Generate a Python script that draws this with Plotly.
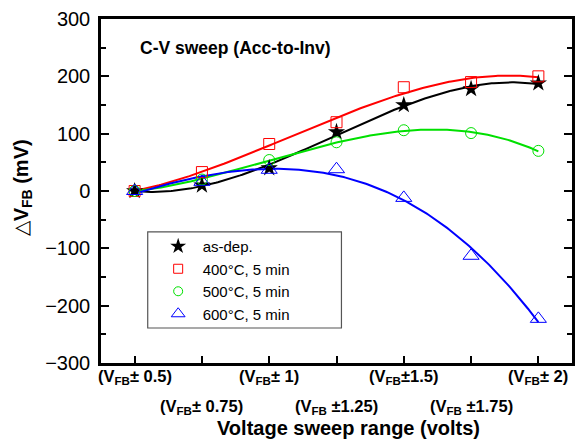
import numpy as np
import plotly.graph_objects as go

# Sweep range (half-width in volts around V_FB)
sweep = [0.5, 0.75, 1.0, 1.25, 1.5, 1.75, 2.0]

# Flat-band voltage shift (mV) for each anneal condition
dvfb_as_dep = [0, 10, 40, 103, 150, 178, 188]
dvfb_400 = [0, 33, 82, 120, 181, 190, 200]
dvfb_500 = [0, 20, 54, 85, 106, 101, 70]
dvfb_600 = [0, 16, 37, 38, -12, -113, -223]

tick_vals = [0.5, 0.75, 1.0, 1.25, 1.5, 1.75, 2.0]
tick_text = [
    "(V<sub>FB</sub>± 0.5)",
    "(V<sub>FB</sub>± 0.75)",
    "(V<sub>FB</sub>± 1)",
    "(V<sub>FB</sub> ±1.25)",
    "(V<sub>FB</sub>±1.5)",
    "(V<sub>FB</sub> ±1.75)",
    "(V<sub>FB</sub>± 2)",
]

# name, values, colour, symbol, plot marker size, legend marker size, filled
series = [
    ("as-dep.", dvfb_as_dep, "#000000", "star", 13, 12, True),
    ("400°C, 5 min", dvfb_400, "#ff0000", "square-open", 11, 9, False),
    ("500°C, 5 min", dvfb_500, "#00e000", "circle-open", 11, 9, False),
    ("600°C, 5 min", dvfb_600, "#0000ff", "triangle-up-open", 14, 12, False),
]

FONT = "Liberation Sans, Arial, sans-serif"

fig = go.Figure()

# Smooth cubic trend through each data set
xs = np.linspace(sweep[0], sweep[-1], 200)
for name, ys, color, sym, size, lsize, filled in series:
    coef = np.polyfit(sweep, ys, 3)
    fig.add_trace(go.Scatter(
        x=xs, y=np.polyval(coef, xs), mode="lines",
        line=dict(color=color, width=2), showlegend=False, hoverinfo="skip",
    ))

for name, ys, color, sym, size, lsize, filled in series:
    fig.add_trace(go.Scatter(
        x=sweep, y=ys, mode="markers", name=name, showlegend=False,
        marker=dict(symbol=sym, size=size, color=color,
                    line=dict(color=color, width=0 if filled else 1)),
    ))

# Legend entries with smaller symbols
for name, ys, color, sym, size, lsize, filled in series:
    fig.add_trace(go.Scatter(
        x=[None], y=[None], mode="markers", name=name,
        marker=dict(symbol=sym, size=lsize, color=color,
                    line=dict(color=color, width=0 if filled else 1)),
    ))

fig.update_xaxes(
    range=[0.375, 2.125], tickvals=tick_vals, showticklabels=False,
    ticks="inside", ticklen=7, tickwidth=2, tickcolor="black",
    showline=True, linecolor="black", linewidth=2.5, mirror=True,
    showgrid=False, zeroline=False,
)
fig.update_yaxes(
    range=[-300, 300], dtick=100,
    ticks="inside", ticklen=8, tickwidth=2, tickcolor="black",
    minor=dict(dtick=50, ticks="inside", ticklen=5, tickwidth=2, tickcolor="black"),
    showline=True, linecolor="black", linewidth=2.5, mirror="allticks",
    showgrid=False, zeroline=False,
    tickfont=dict(family=FONT, size=20, color="black"),
    ticklabelstandoff=4,
)

annotations = []
# Two staggered rows of x tick labels
for i, (v, t) in enumerate(zip(tick_vals, tick_text)):
    annotations.append(dict(
        x=v, xref="x", y=-0.041 if i % 2 == 0 else -0.128, yref="paper",
        text="<b>" + t + "</b>", showarrow=False, xanchor="center", yanchor="middle",
        font=dict(family=FONT, size=16.5, color="black"),
    ))
annotations.append(dict(
    x=0.525, xref="paper", y=-0.19, yref="paper",
    text="<b>Voltage sweep range (volts)</b>", showarrow=False,
    xanchor="center", yanchor="middle",
    font=dict(family=FONT, size=20, color="black"),
))
annotations.append(dict(
    x=-0.166, xref="paper", y=0.51, yref="paper", textangle=-90,
    text="△<b>V<sub>FB</sub> (mV)</b>", showarrow=False,
    xanchor="center", yanchor="middle",
    font=dict(family=FONT, size=20, color="black"),
))
annotations.append(dict(
    x=0.078, xref="paper", y=0.916, yref="paper",
    text="<b>C-V sweep (Acc-to-Inv)</b>", showarrow=False,
    xanchor="left", yanchor="middle",
    font=dict(family=FONT, size=17.5, color="black"),
))

# Legend frame
shapes = [dict(
    type="rect", xref="paper", yref="paper",
    x0=0.0992, x1=0.5105, y0=0.1017, y1=0.381,
    line=dict(color="#555555", width=1.2), fillcolor="white", layer="below",
)]

fig.update_layout(
    width=577, height=448,
    margin=dict(l=101, r=2, t=19, b=85),
    paper_bgcolor="white", plot_bgcolor="white",
    annotations=annotations,
    shapes=shapes,
    showlegend=True,
    legend=dict(
        x=(154 - 101) / 474, y=(363 - 230) / 344, xanchor="left", yanchor="top",
        borderwidth=0, bgcolor="rgba(0,0,0,0)",
        font=dict(family=FONT, size=15, color="black"),
        itemwidth=39,
    ),
)

fig.write_html("out.html")
